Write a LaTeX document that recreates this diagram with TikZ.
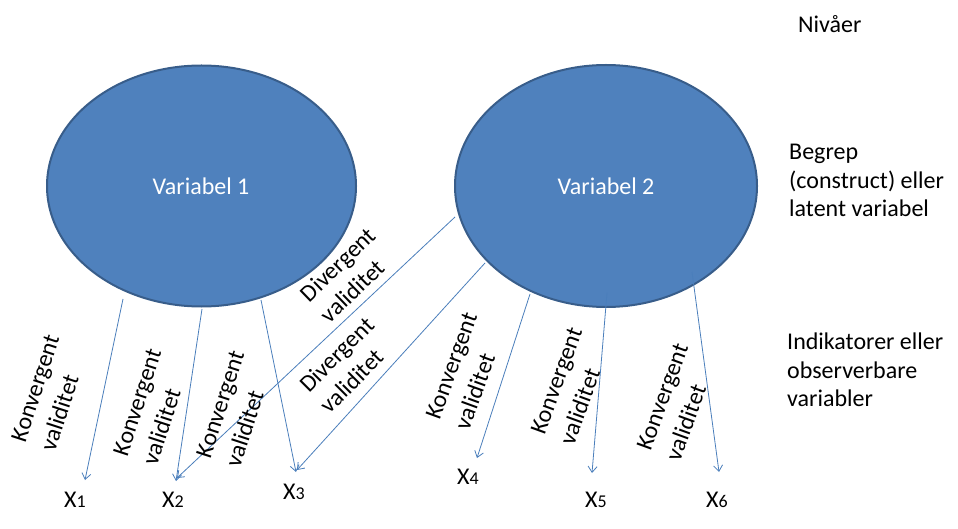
\documentclass[tikz,border=0pt]{standalone}
\usepackage{fontspec}
\setmainfont{Carlito}
\usetikzlibrary{arrows.meta,shapes.geometric}
\definecolor{fillblue}{HTML}{4F81BD}
\definecolor{edgeblue}{HTML}{385D8A}
\definecolor{lineblue}{HTML}{4A7EBB}
\begin{document}
\begin{tikzpicture}[x=1pt,y=-1pt,
  latent/.style={ellipse, draw=edgeblue, line width=2pt, fill=fillblue, inner sep=0pt},
  big/.style={font=\fontsize{24}{28.5}\selectfont},
  ltxt/.style={big, text=white, inner sep=0pt},
  vlabel/.style={font=\fontsize{24}{31}\selectfont, align=left, inner sep=0pt},
  dlabel/.style={font=\fontsize{24}{29.5}\selectfont, align=left, inner sep=0pt},
  side/.style={big, align=left, inner sep=0pt, anchor=north west},
  xlab/.style={big, inner sep=0pt},
  conn/.style={draw=lineblue, line width=0.8pt, -{Straight Barb[length=6pt,width=9pt]}}
]
\useasboundingbox (0,0) rectangle (958,529);

% latent variables
\node[latent, minimum width=309pt, minimum height=241pt] (e1) at (201.5,186) {};
\node[latent, minimum width=302pt, minimum height=242pt] (e2) at (606,186) {};
\node[ltxt] (t1) at (201,186) {Variabel 1};
\node[ltxt] (t2) at (606,186) {Variabel 2};

% indicators
\newcommand{\xl}[1]{X{\fontsize{18}{18}\selectfont #1}}
\node[xlab] (x1) at (75,500) {\xl{1}};
\node[xlab] (x2) at (173,500) {\xl{2}};
\node[xlab] (x3) at (294,492) {\xl{3}};
\node[xlab] (x4) at (468,477) {\xl{4}};
\node[xlab] (x5) at (596,500) {\xl{5}};
\node[xlab] (x6) at (717,500) {\xl{6}};

% connector end points
\coordinate (s1) at (123,299);  \coordinate (f1) at (85,480);
\coordinate (s2) at (202,309);  \coordinate (f2) at (176,481);
\coordinate (s3) at (261,300);  \coordinate (f3) at (296,472);
\coordinate (sd1) at (455,217); \coordinate (fd1) at (177,478);
\coordinate (sd2) at (485,263); \coordinate (fd2) at (297,470);
\coordinate (s4) at (530,294);  \coordinate (f4) at (477,458);
\coordinate (s5) at (607,293);  \coordinate (f5) at (592,473);
\coordinate (s6) at (692,272);  \coordinate (f6) at (719,472);

\draw[conn] (s1) -- (f1);
\draw[conn] (s2) -- (f2);
\draw[conn] (s3) -- (f3);
\draw[conn] (sd1) -- (fd1);
\draw[conn] (sd2) -- (fd2);
\draw[conn] (s4) -- (f4);
\draw[conn] (s5) -- (f5);
\draw[conn] (s6) -- (f6);

% rotated labels
\node[vlabel, rotate=72] (k1) at (50,393) {Konvergent\\validitet};
\node[vlabel, rotate=72] (k2) at (152,407) {Konvergent\\validitet};
\node[vlabel, rotate=72] (k3) at (235,409) {Konvergent\\validitet};
\node[dlabel, rotate=44] (d1) at (348,275) {Divergent\\validitet};
\node[dlabel, rotate=45] (d2) at (347,365) {Divergent\\validitet};
\node[vlabel, rotate=70] (k4) at (466,371) {Konvergent\\validitet};
\node[vlabel, rotate=70] (k5) at (571,386) {Konvergent\\validitet};
\node[vlabel, rotate=70] (k6) at (677,402) {Konvergent\\validitet};

% levels
\node[side] (n0) at (798,15) {Nivåer};
\node[side] (n1) at (789,144) {Begrep\\(construct) eller\\latent variabel};
\node[side] (n2) at (787,333) {Indikatorer eller\\observerbare\\variabler};
\end{tikzpicture}
\end{document}
